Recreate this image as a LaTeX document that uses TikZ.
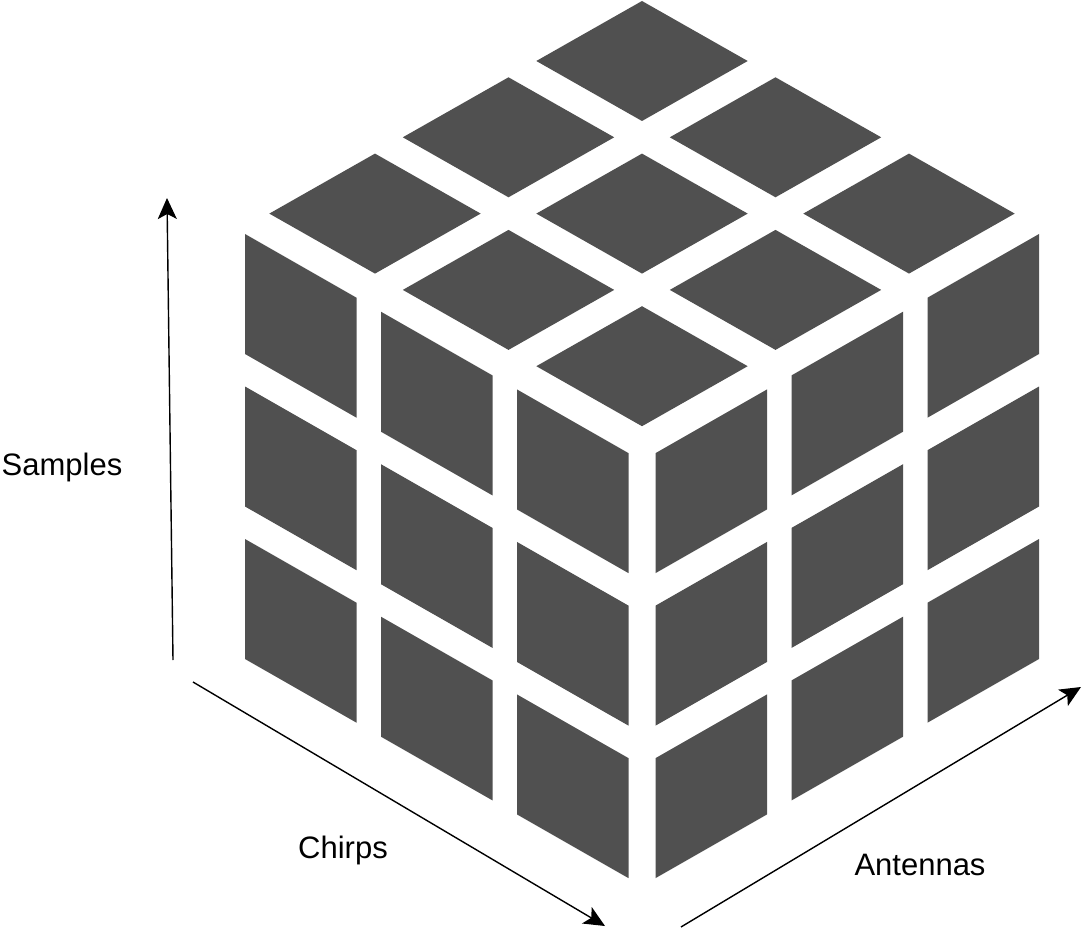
\documentclass[tikz,border=0pt]{standalone}
\usepackage{fontspec}
\setmainfont{Liberation Sans}
\usetikzlibrary{arrows.meta}
\definecolor{tilegray}{HTML}{505050}

\begin{document}
\begin{tikzpicture}[
  x=1pt, y=-1pt,
  font=\fontsize{31}{37}\selectfont,
  tile/.style={fill=tilegray, draw=none},
  arr/.style={-{Stealth[length=21pt, width=19pt, inset=5pt]}, line width=1.4pt},
  axislabel/.style={inner sep=0pt, anchor=center}
]
\useasboundingbox (0,0) rectangle (1082,928);

% top face
\foreach \i in {0,1,2} {
  \foreach \j in {0,1,2} {
    \fill[tile] ({642+(\i-\j)*133.5}, {-15.3+(\i+\j+1)*76.3}) ++(0,-60) -- ++(105.7,60) -- ++(-105.7,60) -- ++(-105.7,-60) -- cycle;
  }
}
% left face
\foreach \j in {0,1,2} {
  \foreach \r in {0,1,2} {
    \fill[tile] ({245+136*\j}, {234+77.72*\j+152.5*\r}) -- ++(111.5,63.7) -- ++(0,120) -- ++(-111.5,-63.7) -- cycle;
  }
}
% right face
\foreach \j in {0,1,2} {
  \foreach \r in {0,1,2} {
    \fill[tile] ({1039-136*\j}, {234+77.72*\j+152.5*\r}) -- ++(-111.5,63.7) -- ++(0,120) -- ++(111.5,-63.7) -- cycle;
  }
}

\coordinate (samples0) at (173,660);
\coordinate (samples1) at (167,198);
\coordinate (chirps0) at (193,682);
\coordinate (chirps1) at (605,926);
\coordinate (antennas0) at (681,927);
\coordinate (antennas1) at (1081,687);

\draw[arr] (samples0) -- (samples1);
\draw[arr] (chirps0) -- (chirps1);
\draw[arr] (antennas0) -- (antennas1);

\node[axislabel] (samples) at (62,467) {Samples};
\node[axislabel] (chirps) at (343,850) {Chirps};
\node[axislabel] (antennas) at (920,865) {Antennas};
\end{tikzpicture}
\end{document}
